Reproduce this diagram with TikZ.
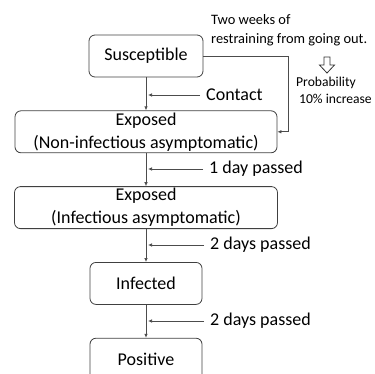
\documentclass[tikz,border=0pt]{standalone}
\usepackage{fontspec}
\setmainfont{Carlito}
\usetikzlibrary{arrows.meta,positioning}

\begin{document}
\begin{tikzpicture}[x=1pt,y=1pt,node distance=33pt,>={Latex[length=4pt,width=3.5pt]},
  state/.style={draw=black!75,line width=0.8pt,rounded corners=6pt,align=center,minimum height=42pt,inner sep=1.5pt,font=\fontsize{18}{23}\selectfont},
  note/.style={anchor=west,inner sep=0pt,font=\fontsize{18}{22}\selectfont},
  small/.style={anchor=north west,align=left,inner sep=0pt,font=\fontsize{14.4}{19}\selectfont},
  flow/.style={->,draw=black!70,line width=0.7pt}]
\useasboundingbox (0,0) rectangle (375,-373);
\node[state,minimum width=114pt] (sus) at (146,-56) {Susceptible};
\node[state,minimum width=262pt,below=of sus] (exp1) {Exposed\\(Non-infectious asymptomatic)};
\node[state,minimum width=263pt,below=of exp1] (exp2) {Exposed\\(Infectious asymptomatic)};
\node[state,minimum width=112pt,below=of exp2] (inf) {Infected};
\node[state,minimum width=112pt,below=of inf] (pos) {Positive};
\draw[flow] (sus) -- (exp1); \draw[flow] (exp1) -- (exp2); \draw[flow] (exp2) -- (inf); \draw[flow] (inf) -- (pos);
% side notes
\node[note] (contact) at (206,-95) {Contact};
\node[note] (day1) at (209,-169) {1 day passed};
\node[note] (day2) at (210,-245) {2 days passed};
\node[note] (day3) at (210,-321) {2 days passed};
\draw[flow] ([xshift=-6pt]contact.west) -- ([xshift=2pt]contact.west -| sus.south);
\draw[flow] ([xshift=-6pt]day1.west) -- ([xshift=2pt]day1.west -| sus.south);
\draw[flow] ([xshift=-6pt]day2.west) -- ([xshift=2pt]day2.west -| sus.south);
\draw[flow] ([xshift=-6pt]day3.west) -- ([xshift=2pt]day3.west -| sus.south);
% restraining
\node[small] (stay) at (211,-14) {Two weeks of\\restraining from going out.};
\node[small,font=\fontsize{13.6}{17}\selectfont] (prob) at (296,-77) {Probability\\\hspace{3pt}10\% increase};
\draw[black!80,line width=0.8pt] (324,-57) -- (330,-57) -- (330,-65) -- (334.5,-65) -- (327,-73) -- (319.5,-65) -- (324,-65) -- cycle;
\draw[flow] (sus.east) -- ++(85,0) |- (exp1.east);
\end{tikzpicture}
\end{document}
